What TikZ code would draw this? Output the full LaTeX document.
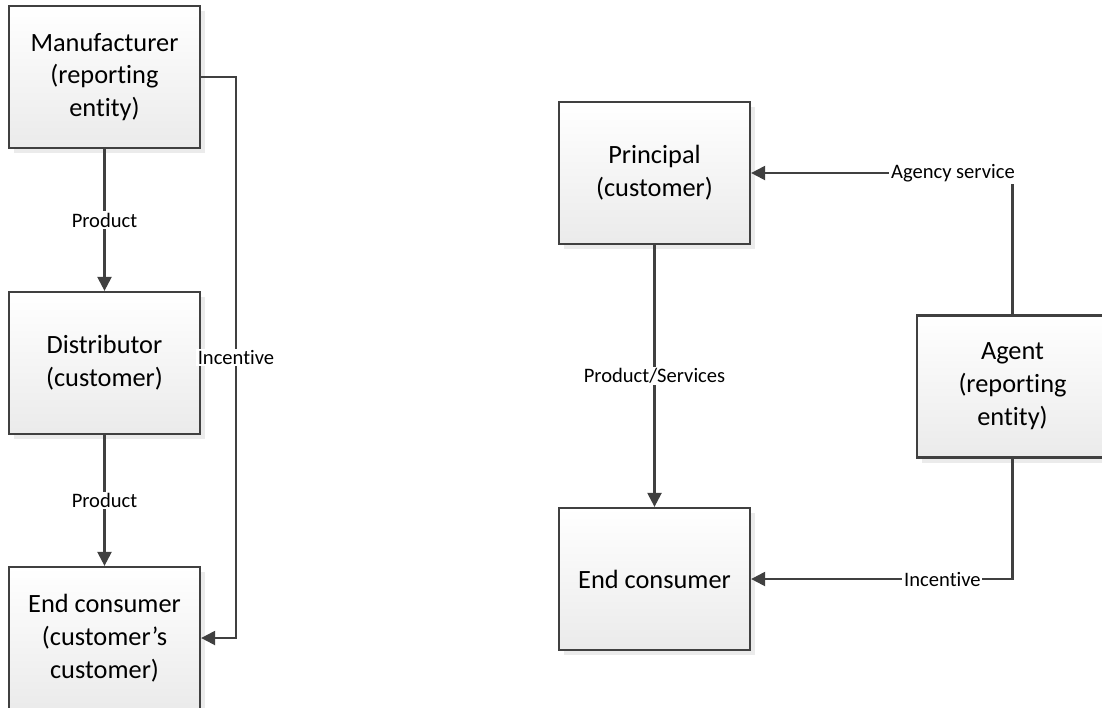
\documentclass[tikz,border=0pt]{standalone}
\usepackage{fontspec}
\setmainfont{Carlito}[Ligatures=NoCommon]
\usetikzlibrary{arrows.meta,shadows}
\definecolor{linegray}{HTML}{404040}
\tikzset{
    entity/.style={draw=linegray, line width=1.3pt, top color=white, bottom color=black!8,
        minimum width=3.82cm, minimum height=2.84cm, align=center, inner sep=2pt,
        font=\fontsize{15}{18.7}\selectfont,
        general shadow={fill=black!8, shadow xshift=3pt, shadow yshift=-3pt}},
    flow/.style={draw=linegray, line width=1.3pt, -{Triangle[length=8pt,width=8pt]}},
    flowlabel/.style={fill=white, inner sep=1pt, text=black, font=\fontsize{11.7}{13}\selectfont}
}
\begin{document}
\begin{tikzpicture}[x=0.02cm, y=-0.02cm]
            \useasboundingbox (0,0) rectangle (1102,707);
            % left chain
            \node[entity] (mfr) at (104.5,77) {Manufacturer\\(reporting\\entity)};
            \node[entity] (dist) at (104.5,363) {Distributor\\(customer)};
            \node[entity] (endL) at (104.5,638) {End consumer\\(customer’s\\customer)};
            \coordinate (incturn) at (236,77);
            \draw[flow] (mfr) -- node[flowlabel] {Product} (dist);
            \draw[flow] (dist) -- node[flowlabel] {Product} (endL);
            \draw[flow] (mfr.east) -- (incturn) |- node[flowlabel, pos=0.25] {Incentive} (endL.east);
            % right chain
            \node[entity] (principal) at (654.5,173) {Principal\\(customer)};
            \node[entity] (endR) at (654.5,579) {End consumer};
            \node[entity] (agent) at (1012.5,386.5) {Agent\\(reporting\\entity)};
            \draw[flow] (principal) -- node[flowlabel] {Product/Services} (endR);
            \draw[flow] (agent.north) |- node[flowlabel, pos=0.614] {Agency service} (principal.east);
            \draw[flow] (agent.south) |- node[flowlabel, pos=0.634] {Incentive} (endR.east);
\end{tikzpicture}
\end{document}
